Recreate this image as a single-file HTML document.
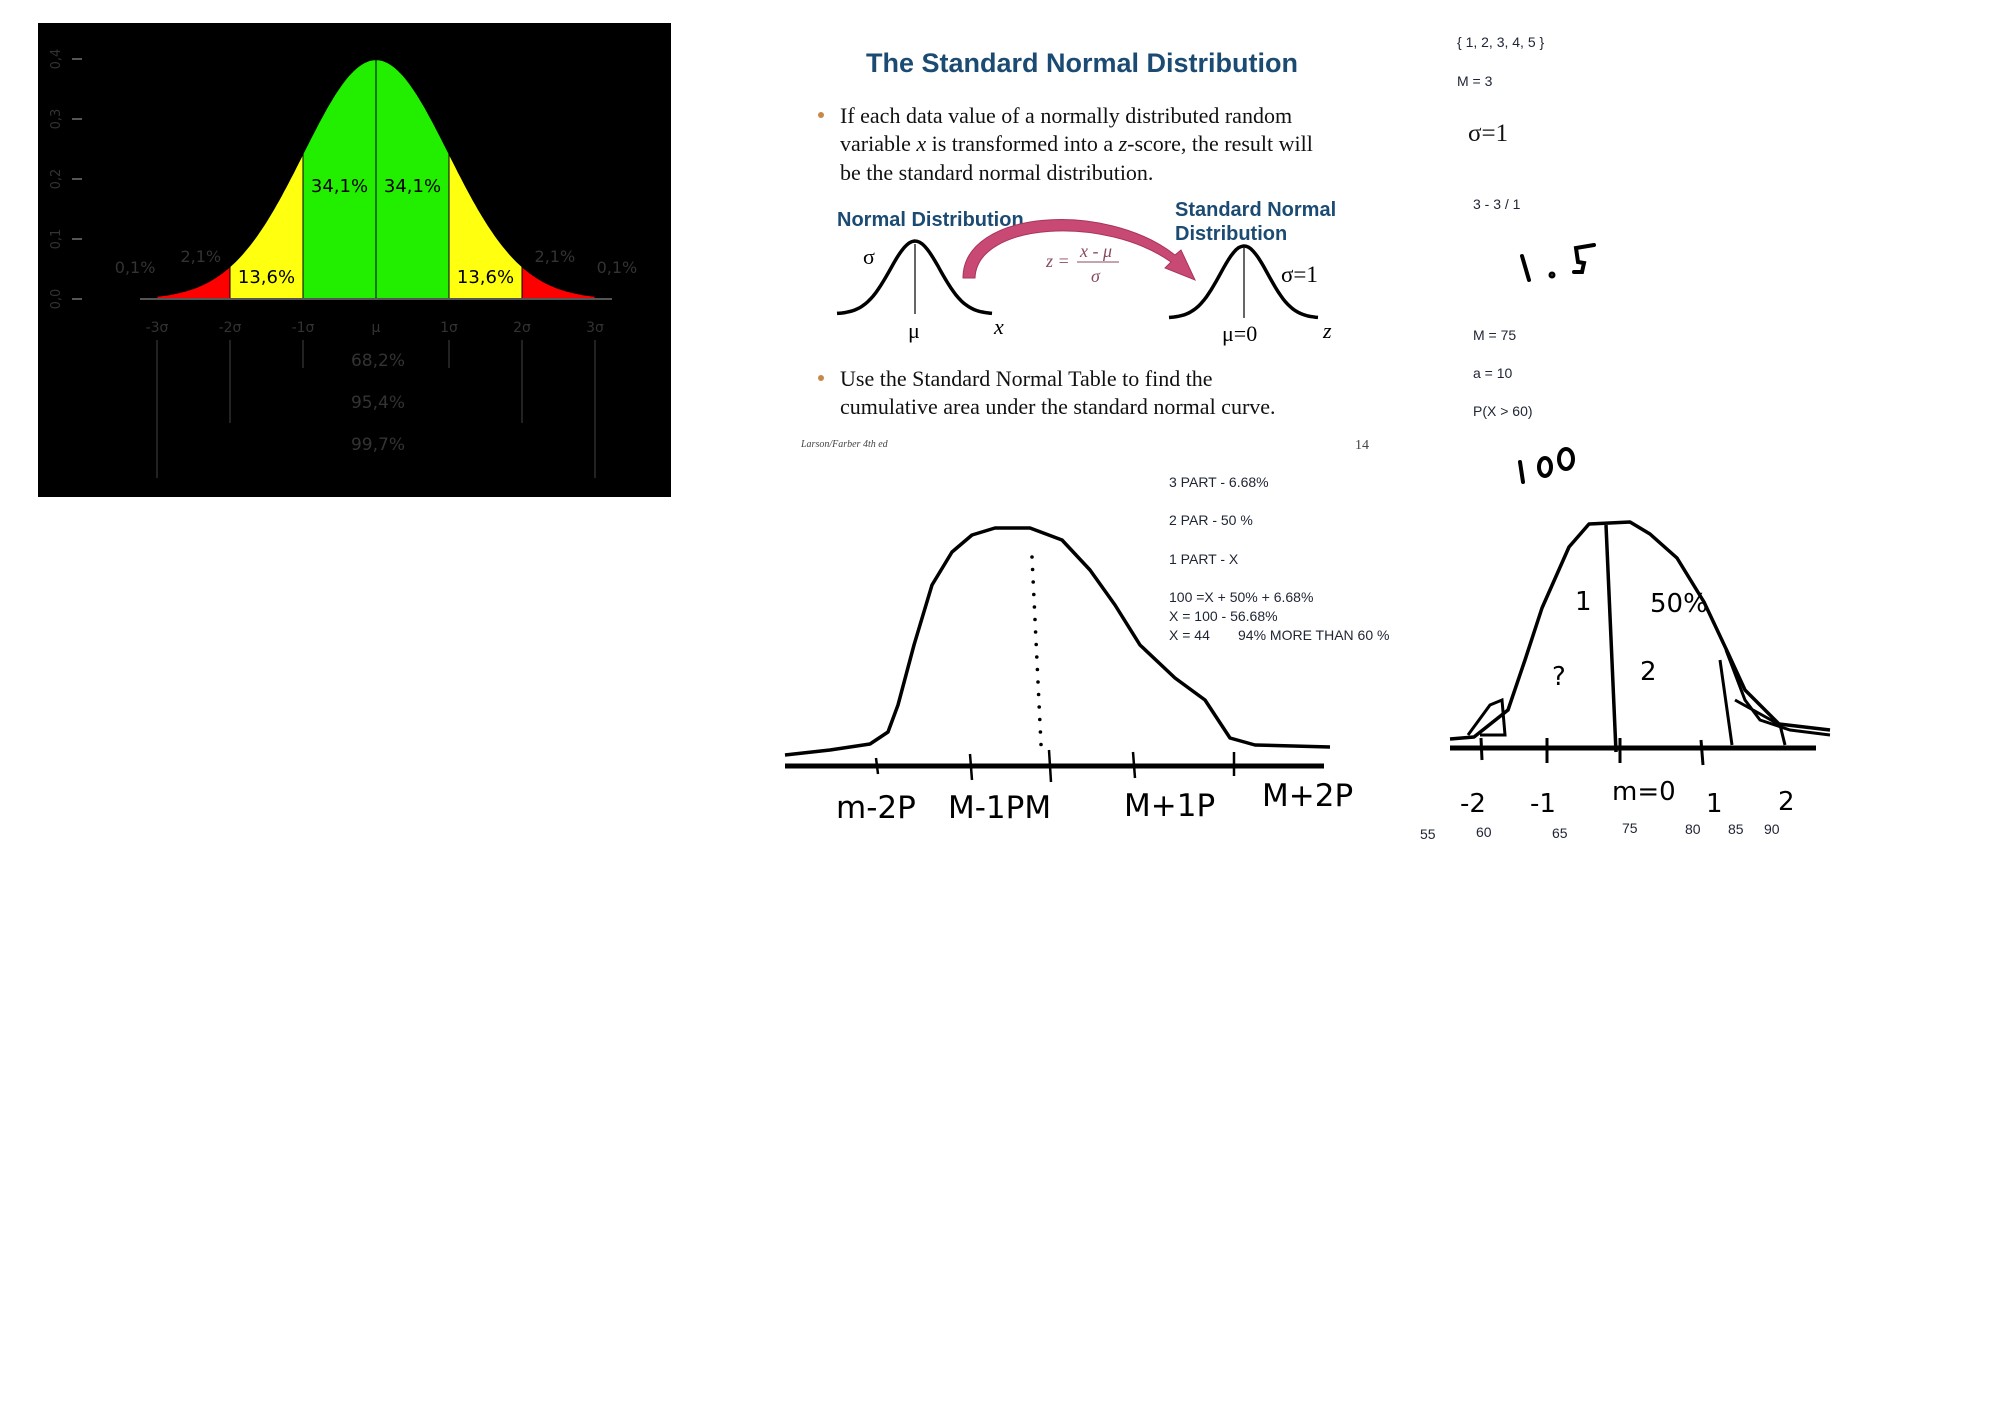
<!DOCTYPE html>
<html><head><meta charset="utf-8"><style>
html,body{margin:0;padding:0;background:#fff}
svg{display:block}
.cal{font-family:"Liberation Sans",sans-serif;font-size:14px;fill:#1e2433}
.ser{font-family:"Liberation Serif",serif}
.hand{font-family:"DejaVu Sans",sans-serif;fill:#000}
</style></head><body>
<svg width="2000" height="1417" viewBox="0 0 2000 1417" xmlns="http://www.w3.org/2000/svg">
<g>
<rect x="38" y="23" width="633" height="474" fill="#000"/>
<g id="bands"></g>
<g id="bell"></g>
</g>

<g transform="translate(-5,0)">
<text x="1087" y="72" text-anchor="middle" font-family="Liberation Sans,sans-serif" font-weight="bold" font-size="27" fill="#1b4b73">The Standard Normal Distribution</text>
<circle cx="826" cy="115" r="3" fill="#c8884a"/>
<text class="ser" font-size="22" fill="#111">
<tspan x="845" y="123">If each data value of a normally distributed random</tspan>
<tspan x="845" y="151">variable <tspan font-style="italic">x</tspan> is transformed into a <tspan font-style="italic">z</tspan>-score, the result will</tspan>
<tspan x="845" y="180">be the standard normal distribution.</tspan></text>
<text x="842" y="226" font-family="Liberation Sans,sans-serif" font-weight="bold" font-size="20" fill="#1b4b73">Normal  Distribution</text>
<text font-family="Liberation Sans,sans-serif" font-weight="bold" font-size="20" fill="#1b4b73"><tspan x="1180" y="216">Standard Normal</tspan><tspan x="1180" y="240">Distribution</tspan></text>
<path id="c1" fill="none" stroke="#000" stroke-width="3.5"/>
<line x1="920" y1="244" x2="920" y2="314" stroke="#000" stroke-width="1.2"/>
<path id="c2" fill="none" stroke="#000" stroke-width="3.5"/>
<line x1="1249" y1="248" x2="1249" y2="318" stroke="#000" stroke-width="1.2"/>
<text x="868" y="264" class="ser" font-size="22">σ</text>
<text x="913" y="338" class="ser" font-size="22">μ</text>
<text x="999" y="334" class="ser" font-size="22" font-style="italic">x</text>
<text x="1286" y="282" class="ser" font-size="23">σ=1</text>
<text x="1227" y="341" class="ser" font-size="22">μ=0</text>
<text x="1328" y="338" class="ser" font-size="22" font-style="italic">z</text>
<path d="M968,278 C968,210 1110,200 1180,255 L1186,250 L1200,280 L1170,268 L1176,262 C1110,215 982,222 980,278 Z" fill="#c84a74" stroke="#a8345a" stroke-width="1"/>
<g class="ser" font-style="italic" fill="#8a4a5c" font-size="18">
<text x="1051" y="267">z =</text><text x="1085" y="257">x - μ</text>
<line x1="1082" y1="262" x2="1124" y2="262" stroke="#8a4a5c" stroke-width="1"/>
<text x="1096" y="282">σ</text></g>
<circle cx="826" cy="378" r="3" fill="#c8884a"/>
<text class="ser" font-size="22" fill="#111"><tspan x="845" y="386">Use the Standard Normal Table to find the</tspan><tspan x="845" y="414">cumulative area under the standard normal curve.</tspan></text>
<text x="806" y="447" class="ser" font-style="italic" font-size="10" fill="#444">Larson/Farber 4th ed</text>
<text x="1360" y="449" class="ser" font-size="14" fill="#444">14</text>
</g>

<g class="cal" transform="translate(-7,0)">
<text x="1464" y="47">{ 1, 2, 3, 4, 5 }</text>
<text x="1464" y="86">M = 3</text>
<text x="1475" y="141" class="ser" font-size="25" fill="#111">σ=1</text>
<text x="1480" y="209">3 - 3 / 1</text>
<text x="1480" y="340">M = 75</text>
<text x="1480" y="378">a = 10</text>
<text x="1480" y="416">P(X &gt; 60)</text>
</g>
<g stroke="#000" stroke-width="4" fill="none" stroke-linecap="round">
<path d="M1522,256 L1529,280"/><circle cx="1552" cy="275" r="1.5"/><path d="M1594,245 L1576,248 L1578,262 L1584,263 L1582,272 L1574,272"/>
</g>
<g stroke="#000" stroke-width="4" fill="none" stroke-linecap="round">
<path d="M1520,462 L1523,482"/><ellipse cx="1545" cy="467" rx="6" ry="9"/><ellipse cx="1566" cy="459" rx="7" ry="10"/>
</g>
<g class="cal" font-size="14">
<text x="1169" y="487">3 PART - 6.68%</text>
<text x="1169" y="525">2 PAR - 50 %</text>
<text x="1169" y="564">1 PART - X</text>
<text x="1169" y="602">100 =X + 50% + 6.68%</text>
<text x="1169" y="621">X = 100 - 56.68%</text>
<text x="1169" y="640">X = 44</text><text x="1238" y="640">94% MORE THAN 60 %</text>
</g>

<g>
<path id="h1" fill="none" stroke="#000" stroke-width="3.5" stroke-linejoin="round"/>
<line x1="785" y1="766" x2="1324" y2="766" stroke="#000" stroke-width="5"/>
<g stroke="#000" stroke-width="2.5"><line x1="876" y1="758" x2="878" y2="774"/><line x1="970" y1="754" x2="972" y2="780"/><line x1="1049" y1="750" x2="1051" y2="782"/><line x1="1133" y1="752" x2="1135" y2="778"/><line x1="1234" y1="752" x2="1234" y2="776"/></g>
<g id="dots1"></g>
<text class="hand" font-size="31"><tspan x="836" y="818">m-2P</tspan><tspan x="948" y="818">M-1PM</tspan><tspan x="1124" y="816">M+1P</tspan><tspan x="1262" y="806">M+2P</tspan></text>
</g>

<g>
<path id="h2" fill="none" stroke="#000" stroke-width="3.5" stroke-linejoin="round"/>
<line x1="1450" y1="748" x2="1816" y2="748" stroke="#000" stroke-width="5"/>
<line x1="1606" y1="525" x2="1616" y2="752" stroke="#000" stroke-width="3.5"/>
<g stroke="#000" stroke-width="3"><line x1="1481" y1="738" x2="1482" y2="760"/><line x1="1547" y1="738" x2="1547" y2="763"/><line x1="1620" y1="738" x2="1620" y2="763"/><line x1="1701" y1="740" x2="1703" y2="765"/></g>
<path d="M1720,660 L1732,745 M1726,650 L1745,700 L1760,720 L1790,730 L1830,735 M1735,700 L1780,725 L1785,745 M1468,735 L1490,705 L1502,700 L1505,735 L1480,735" fill="none" stroke="#000" stroke-width="3"/>
<g class="hand" font-size="26"><text x="1460" y="812">-2</text><text x="1530" y="812">-1</text><text x="1612" y="800">m=0</text><text x="1706" y="812">1</text><text x="1778" y="810">2</text>
<text x="1650" y="612">50%</text><text x="1575" y="610">1</text><text x="1640" y="680">2</text><text x="1552" y="685">?</text></g>
<g class="cal" font-size="14"><text x="1420" y="839">55</text><text x="1476" y="837">60</text><text x="1552" y="838">65</text><text x="1622" y="833">75</text><text x="1685" y="834">80</text><text x="1728" y="834">85</text><text x="1764" y="834">90</text></g>
</g>

<script>
const bandEdges = [-3, -2, -1, 0, 1, 2, 3];
const bandPercents = ["0,1%", "2,1%", "13,6%", "34,1%", "34,1%", "13,6%", "2,1%", "0,1%"];
const bandColors = ["#ff0000", "#ffff10", "#22ee00", "#22ee00", "#ffff10", "#ff0000"];
const axisTickLabels = ["-3σ", "-2σ", "-1σ", "μ", "1σ", "2σ", "3σ"];
const yTickLabels = ["0,0", "0,1", "0,2", "0,3", "0,4"];
const yTickValues = [0, 0.1, 0.2, 0.3, 0.4];
const rangeLabels = ["68,2%", "95,4%", "99,7%"];
const rangeSigmas = [1, 2, 3];

const NS = "http://www.w3.org/2000/svg";
const xs = z => 376 + z * 73;
const ys = p => 299 - p / 0.4 * 240;
const pdf = z => Math.exp(-z * z / 2) / Math.sqrt(2 * Math.PI);
function mk(tag, attrs, parent) { const e = document.createElementNS(NS, tag); for (const k in attrs) e.setAttribute(k, attrs[k]); parent.appendChild(e); return e; }
const bands = document.getElementById('bands');
const bell = document.getElementById('bell');
for (let i = 0; i < bandEdges.length - 1; i++) {
  const a = bandEdges[i], b = bandEdges[i + 1];
  let d = `M${xs(a)},${ys(0)}`;
  for (let k = 0; k <= 30; k++) { const z = a + (b - a) * k / 30; d += ` L${xs(z).toFixed(1)},${ys(pdf(z)).toFixed(1)}`; }
  d += ` L${xs(b)},${ys(0)} Z`;
  const p = mk('path', { d: d, fill: bandColors[i], stroke: '#000', 'stroke-width': 1 }, bands);
  
  
}
mk('line', { x1: 140, y1: ys(0), x2: 612, y2: ys(0), stroke: '#555', 'stroke-width': 2 }, bell);
const inner = [[2, -1.5], [3, -0.5], [4, 0.5], [5, 1.5]];
inner.forEach(([i, z]) => {
  const t = mk('text', { x: xs(z), y: z * z < 1 ? 192 : 283, 'text-anchor': 'middle', 'font-family': 'DejaVu Sans,sans-serif', 'font-size': 18, fill: '#000' }, bell);
  t.textContent = bandPercents[i];
  
  
});
const outer = [[0, -3.3, 273], [1, -2.4, 262], [6, 2.45, 262], [7, 3.3, 273]];
outer.forEach(([i, z, y]) => {
  const t = mk('text', { x: xs(z), y: y, 'text-anchor': 'middle', 'font-family': 'DejaVu Sans,sans-serif', 'font-size': 16, fill: '#333' }, bell);
  t.textContent = bandPercents[i];
  
  
});
bandEdges.forEach((z, i) => {
  const t = mk('text', { x: xs(z), y: 332, 'text-anchor': 'middle', 'font-family': 'DejaVu Sans,sans-serif', 'font-size': 14, fill: '#333' }, bell);
  t.textContent = axisTickLabels[i];
  
  
});
yTickValues.forEach((v, i) => {
  mk('line', { x1: 72, y1: ys(v), x2: 82, y2: ys(v), stroke: '#555', 'stroke-width': 2 }, bell);
  const t = mk('text', { x: 60, y: ys(v), 'text-anchor': 'middle', 'font-family': 'DejaVu Sans,sans-serif', 'font-size': 13, fill: '#333', transform: `rotate(-90 60 ${ys(v)})` }, bell);
  t.textContent = yTickLabels[i];
  
  
});
rangeSigmas.forEach((s, i) => {
  const yb = 368 + i * 55;
  mk('path', { d: `M${xs(-s)},340 L${xs(-s)},${yb} M${xs(s)},340 L${xs(s)},${yb}`, stroke: '#444', 'stroke-width': 1, fill: 'none' }, bell);
  const t = mk('text', { x: 378, y: 366 + i * 42, 'text-anchor': 'middle', 'font-family': 'DejaVu Sans,sans-serif', 'font-size': 17, fill: '#333' }, bell);
  t.textContent = rangeLabels[i];
  
  
});
function smallCurve(id, cx, base, peak, sx, x0, x1) {
  let d = '';
  for (let k = 0; k <= 60; k++) { const x = x0 + (x1 - x0) * k / 60; const z = (x - cx) / sx; d += (k ? ' L' : 'M') + x.toFixed(1) + ',' + (base - (base - peak) * Math.exp(-z * z / 2)).toFixed(1); }
  document.getElementById(id).setAttribute('d', d);
}
smallCurve('c1', 920, 314, 241, 25, 842, 997);
smallCurve('c2', 1249, 318, 246, 24, 1174, 1323);
const h1 = [[785,755],[830,750],[870,744],[888,732],[898,705],[914,645],[932,585],[952,552],[972,535],[995,528],[1030,528],[1062,540],[1090,570],[1115,605],[1140,645],[1175,678],[1205,700],[1230,738],[1255,745],[1330,747]];
const h2 = [[1450,739],[1474,737],[1508,710],[1525,660],[1542,608],[1569,547],[1589,524],[1630,522],[1650,534],[1677,558],[1704,602],[1728,653],[1745,690],[1779,724],[1830,730]];
document.getElementById('h1').setAttribute('d', 'M' + h1.map(p => p.join(',')).join(' L'));
document.getElementById('h2').setAttribute('d', 'M' + h2.map(p => p.join(',')).join(' L'));
const dots = document.getElementById('dots1');
for (let k = 0; k < 16; k++) { mk('circle', { cx: 1032 + k * 0.6, cy: 557 + k * 12.5, r: 1.8, fill: '#000' }, dots); }
</script>
</svg>
</body></html>
